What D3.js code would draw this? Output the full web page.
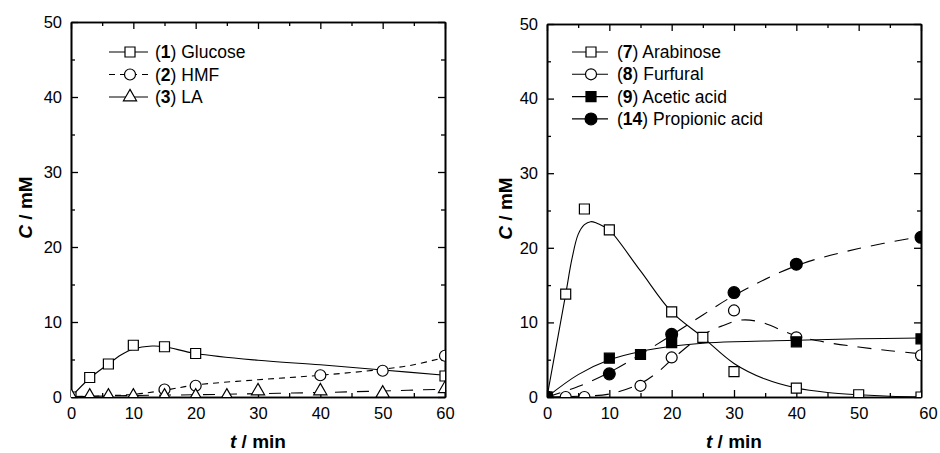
<!DOCTYPE html>
<html>
<head>
<meta charset="utf-8">
<script src="https://cdn.jsdelivr.net/npm/d3@7"></script>
<style>
  body { margin: 0; background: #fff; }
  svg { display: block; font-family: "Liberation Sans", Arial, Helvetica, sans-serif; }
</style>
</head>
<body>
<svg width="940" height="453"></svg>
<script>
// ---- data (t in min, C in mM) ----
var xTicks = [0, 10, 20, 30, 40, 50, 60],
    xMinor = [5, 15, 25, 35, 45, 55],
    yTicks = [0, 10, 20, 30, 40, 50],
    yMinor = [5, 15, 25, 35, 45];

// left panel
var glucoseT = [0, 3, 6, 10, 15, 20, 60],
    glucose  = [0, 2.6, 4.4, 6.9, 6.7, 5.8, 2.8],
    glucoseFitT = [0, 3, 6, 8, 10, 13, 15, 20, 30, 40, 50, 60],
    glucoseFit  = [0, 2.5, 4.4, 5.6, 6.4, 6.8, 6.7, 5.8, 4.9, 4.3, 3.6, 2.9];

var hmfT = [15, 20, 40, 50, 60],
    hmf  = [1.0, 1.5, 2.9, 3.5, 5.5],
    hmfFitT = [0, 5, 10, 15, 20, 30, 40, 50, 55, 60],
    hmfFit  = [0, 0.15, 0.35, 0.9, 1.6, 2.3, 2.9, 3.7, 4.3, 5.3];

var laT = [0, 3, 6, 10, 15, 20, 25, 30, 40, 50, 60],
    la  = [0.1, 0.1, 0.1, 0.1, 0.1, 0.1, 0.1, 0.8, 0.8, 0.5, 1.1],
    laFitT = [0, 10, 20, 30, 40, 50, 60],
    laFit  = [0.05, 0.2, 0.3, 0.45, 0.6, 0.8, 1.05];

// right panel
var arabinoseT = [0, 3, 6, 10, 20, 25, 30, 40, 50, 60],
    arabinose  = [0, 13.8, 25.2, 22.4, 11.4, 8.0, 3.4, 1.2, 0.3, 0],
    arabinoseFitT = [0, 3, 4, 5, 6, 7, 8, 9, 10, 15, 20, 25, 30, 35, 40, 45, 50, 55, 60],
    arabinoseFit  = [0, 13.8, 18.5, 21.8, 23.1, 23.5, 23.3, 22.9, 22.4, 16.9, 11.4, 8.0, 4.5, 2.4, 1.2, 0.6, 0.3, 0.1, 0];

var furfuralT = [0, 3, 6, 15, 20, 30, 40, 60],
    furfural  = [0, 0, 0, 1.5, 5.3, 11.6, 8.0, 5.6],
    furfuralFitT = [0, 5, 10, 15, 18, 20, 25, 28, 31, 34, 40, 45, 50, 55, 60],
    furfuralFit  = [0, 0.1, 0.4, 1.8, 3.5, 5.0, 8.3, 9.5, 10.3, 10.1, 8.2, 7.3, 6.7, 6.2, 5.8];

var aceticT = [0, 10, 15, 20, 40, 60],
    acetic  = [0, 5.2, 5.7, 7.3, 7.4, 7.8],
    aceticFitT = [0, 5, 10, 15, 20, 25, 30, 40, 50, 60],
    aceticFit  = [0, 3.0, 5.0, 6.1, 6.8, 7.2, 7.4, 7.6, 7.8, 7.9];

var propionicT = [0, 10, 20, 30, 40, 60],
    propionic  = [0, 3.1, 8.4, 14.0, 17.8, 21.4],
    propionicFitT = [0, 5, 10, 15, 20, 25, 30, 40, 50, 60],
    propionicFit  = [0, 1.4, 3.3, 5.7, 8.3, 11.0, 13.6, 17.6, 19.9, 21.5];

function zip(a, b) { return a.map(function(d, i) { return [d, b[i]]; }); }

var panels = [
  {
    id: "a", left: 71, right: 445, top: 22, bottom: 397, yTitleX: 25, lastDx: 0,
    legend: { x1: 109, x2: 148, mx: 130, tx: 155, y: 52, dy: 22.5 },
    series: [
      { num: "1", name: "Glucose", pts: zip(glucoseT, glucose), fit: zip(glucoseFitT, glucoseFit),
        sym: d3.symbolSquare, size: 100, fill: "#fff", dash: null, legDash: null },
      { num: "2", name: "HMF", pts: zip(hmfT, hmf), fit: zip(hmfFitT, hmfFit),
        sym: d3.symbolCircle, size: 95, fill: "#fff", dash: "6,5", legDash: "6,5" },
      { num: "3", name: "LA", pts: zip(laT, la), fit: zip(laFitT, laFit),
        sym: d3.symbolTriangle, size: 75, fill: "#fff", dash: "12,10", legDash: null }
    ]
  },
  {
    id: "b", left: 547, right: 921, top: 24, bottom: 397, yTitleX: 505, lastDx: 7,
    legend: { x1: 572, x2: 608, mx: 591, tx: 617, y: 52, dy: 22.3 },
    series: [
      { num: "7", name: "Arabinose", pts: zip(arabinoseT, arabinose), fit: zip(arabinoseFitT, arabinoseFit),
        sym: d3.symbolSquare, size: 100, fill: "#fff", dash: null, legDash: null },
      { num: "8", name: "Furfural", pts: zip(furfuralT, furfural), fit: zip(furfuralFitT, furfuralFit),
        sym: d3.symbolCircle, size: 95, fill: "#fff", dash: "14,10", legDash: null },
      { num: "9", name: "Acetic acid", pts: zip(aceticT, acetic), fit: zip(aceticFitT, aceticFit),
        sym: d3.symbolSquare, size: 100, fill: "#000", dash: null, legDash: null },
      { num: "14", name: "Propionic acid", pts: zip(propionicT, propionic), fit: zip(propionicFitT, propionicFit),
        sym: d3.symbolCircle, size: 110, fill: "#000", dash: "14,10", legDash: null }
    ]
  }
];

var svg = d3.select("svg");

panels.forEach(drawPanel);

function drawPanel(p) {
  var x = d3.scaleLinear().domain([0, 60]).range([p.left, p.right]),
      y = d3.scaleLinear().domain([0, 50]).range([p.bottom, p.top]);

  var g = svg.append("g");

  g.append("clipPath").attr("id", "clip-" + p.id)
    .append("rect")
      .attr("x", p.left).attr("y", p.top)
      .attr("width", p.right - p.left).attr("height", p.bottom - p.top);

  // axes, ticks inward on all four sides
  function axis(gen, tr, vals, len, labels, pad) {
    var a = gen.tickValues(vals).tickSizeInner(-len).tickSizeOuter(0).tickPadding(pad || 9);
    if (!labels) a.tickFormat("");
    var ag = g.append("g").attr("transform", tr).call(a);
    ag.attr("font-size", 16.5).attr("font-family", null);
    ag.selectAll("line").attr("stroke-width", 1.3);
    ag.select(".domain").attr("stroke-width", 1.6);
    return ag;
  }
  var bt = "translate(0," + p.bottom + ")", tt = "translate(0," + p.top + ")",
      lt = "translate(" + p.left + ",0)", rt = "translate(" + p.right + ",0)";
  var xa = axis(d3.axisBottom(x), bt, xTicks, 7, true, 10);
  xa.selectAll(".tick text").filter(function(d) { return d === 60; }).attr("dx", p.lastDx);
  axis(d3.axisBottom(x), bt, xMinor, 4, false);
  axis(d3.axisTop(x), tt, xTicks, 7, false);
  axis(d3.axisTop(x), tt, xMinor, 4, false);
  axis(d3.axisLeft(y), lt, yTicks, 7, true, 9);
  axis(d3.axisLeft(y), lt, yMinor, 4, false);
  axis(d3.axisRight(y), rt, yTicks, 7, false);
  axis(d3.axisRight(y), rt, yMinor, 4, false);

  // axis titles
  var xt = g.append("text")
    .attr("x", (p.left + p.right) / 2).attr("y", 448)
    .attr("text-anchor", "middle").attr("font-size", 19).attr("font-weight", "bold");
  xt.append("tspan").attr("font-style", "italic").text("t");
  xt.append("tspan").text(" / min");

  var yt = g.append("text")
    .attr("transform", "translate(" + (p.yTitleX + 7) + "," + ((p.top + p.bottom) / 2 - 2) + ") rotate(-90)")
    .attr("text-anchor", "middle").attr("font-size", 19).attr("font-weight", "bold");
  yt.append("tspan").attr("font-style", "italic").text("C");
  yt.append("tspan").text("  / mM");

  // data
  var plot = g.append("g").attr("clip-path", "url(#clip-" + p.id + ")");
  var line = d3.line()
    .x(function(d) { return x(d[0]); })
    .y(function(d) { return y(d[1]); })
    .curve(d3.curveCatmullRom.alpha(0.5));

  p.series.forEach(function(s) {
    plot.append("path")
      .attr("d", line(s.fit))
      .attr("fill", "none").attr("stroke", "#000").attr("stroke-width", 1.1)
      .attr("stroke-dasharray", s.dash);
  });
  p.series.forEach(function(s) {
    plot.selectAll(null).data(s.pts).enter().append("path")
      .attr("transform", function(d) { return "translate(" + x(d[0]) + "," + y(d[1]) + ")"; })
      .attr("d", d3.symbol().type(s.sym).size(s.size))
      .attr("fill", s.fill).attr("stroke", "#000").attr("stroke-width", 1.2);
  });

  // legend
  var L = p.legend;
  p.series.forEach(function(s, i) {
    var yy = L.y + i * L.dy;
    g.append("line")
      .attr("x1", L.x1).attr("x2", L.x2).attr("y1", yy).attr("y2", yy)
      .attr("stroke", "#000").attr("stroke-width", 1.1)
      .attr("stroke-dasharray", s.legDash);
    g.append("path")
      .attr("transform", "translate(" + L.mx + "," + yy + ")")
      .attr("d", d3.symbol().type(s.sym).size(s.size))
      .attr("fill", s.fill).attr("stroke", "#000").attr("stroke-width", 1.2);
    var t = g.append("text").attr("x", L.tx).attr("y", yy + 6).attr("font-size", 17.5);
    t.append("tspan").text("(");
    t.append("tspan").attr("font-weight", "bold").text(s.num);
    t.append("tspan").text(") " + s.name);
  });
}
</script>
</body>
</html>
